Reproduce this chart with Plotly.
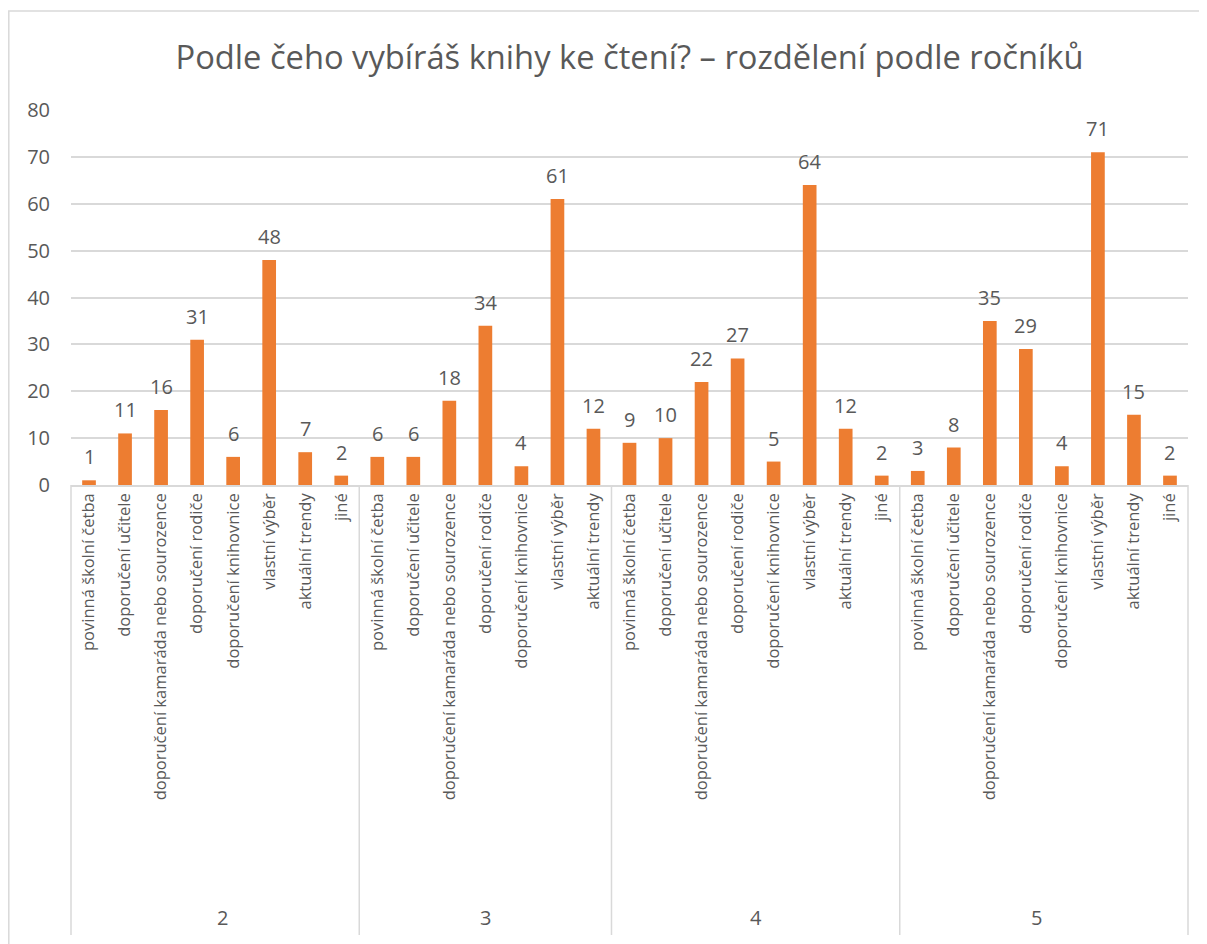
import plotly.graph_objects as go

# Podle čeho vybíráš knihy ke čtení? – podle ročníků
reasons = ["povinná školní četba", "doporučení učitele",
           "doporučení kamaráda nebo sourozence", "doporučení rodiče",
           "doporučení knihovnice", "vlastní výběr", "aktuální trendy", "jiné"]

grades = ["2", "3", "4", "5"]
grade_2 = [1, 11, 16, 31, 6, 48, 7, 2]
grade_3 = [6, 6, 18, 34, 4, 61, 12]          # "jiné" nebylo v 3. ročníku
grade_4 = [9, 10, 22, 27, 5, 64, 12, 2]
grade_5 = [3, 8, 35, 29, 4, 71, 15, 2]

y_ticks = [0, 10, 20, 30, 40, 50, 60, 70, 80]

TXT = "#595959"
GRID = "#D9D9D9"
BAR = "#ED7D31"
FONT = "Open Sans"

# page body has an 8px margin, so everything is placed 8px up/left
L, T, PW, PH = 63, 102, 1117, 375

# flatten to one x position per bar
x_pos, labels, values, bounds = [], [], [], [0]
for vals in [grade_2, grade_3, grade_4, grade_5]:
    for i, v in enumerate(vals):
        x_pos.append(len(x_pos))
        labels.append(reasons[i])
        values.append(v)
    bounds.append(len(x_pos))
n = len(x_pos)

fig = go.Figure()
fig.add_trace(go.Bar(
    x=x_pos, y=values,
    marker=dict(color=BAR, line=dict(width=0)),
    hoverinfo="skip",
))

shapes = []
# group separators under the axis
for b in bounds:
    shapes.append(dict(type="line", xref="paper", yref="paper",
                       x0=b / n, x1=b / n, y0=0, y1=-450 / PH,
                       line=dict(color=GRID, width=1.5)))
# chart border
shapes.append(dict(type="rect", xref="paper", yref="paper",
                   x0=(0.8 - L) / PW, x1=1.1, y0=1 + (T - 3) / PH, y1=-1.5,
                   line=dict(color=GRID, width=1.5), layer="below"))

annotations = []
# data labels above bars
for x, v in zip(x_pos, values):
    annotations.append(dict(x=x, y=v, xref="x", yref="y", text=str(v),
                            showarrow=False, yanchor="bottom", yshift=8,
                            font=dict(family=FONT, size=20, color=TXT)))
# grade labels
for g, a, b in zip(grades, bounds[:-1], bounds[1:]):
    annotations.append(dict(x=(a + b) / 2 / n, y=-433 / PH, xref="paper", yref="paper",
                            text=g, showarrow=False, yanchor="middle",
                            font=dict(family=FONT, size=20, color=TXT)))

fig.update_layout(
    width=1207, height=944,
    margin=dict(l=L, r=1207 - L - PW, t=T, b=944 - T - PH),
    paper_bgcolor="white", plot_bgcolor="white",
    title=dict(text="Podle čeho vybíráš knihy ke čtení? – rozdělení podle ročníků",
               x=0.5, xref="paper", xanchor="center", y=1 - 50 / 944, yanchor="middle",
               font=dict(family=FONT, size=32.7, color=TXT)),
    bargap=0.62,
    showlegend=False,
    shapes=shapes,
    annotations=annotations,
    xaxis=dict(
        tickmode="array", tickvals=x_pos, ticktext=labels,
        range=[-0.5, n - 0.5], tickangle=-90,
        tickfont=dict(family=FONT, size=16.5, color=TXT),
        showgrid=False, showline=True, linecolor=GRID, linewidth=1.5,
        ticks="", zeroline=False,
    ),
    yaxis=dict(
        range=[0, 80], tickvals=y_ticks,
        tickfont=dict(family=FONT, size=20, color=TXT),
        showgrid=True, gridcolor=GRID, gridwidth=1.5,
        zeroline=False, showline=False, ticks="",
        ticklabelstandoff=20,
    ),
)

fig.write_html("out.html")
